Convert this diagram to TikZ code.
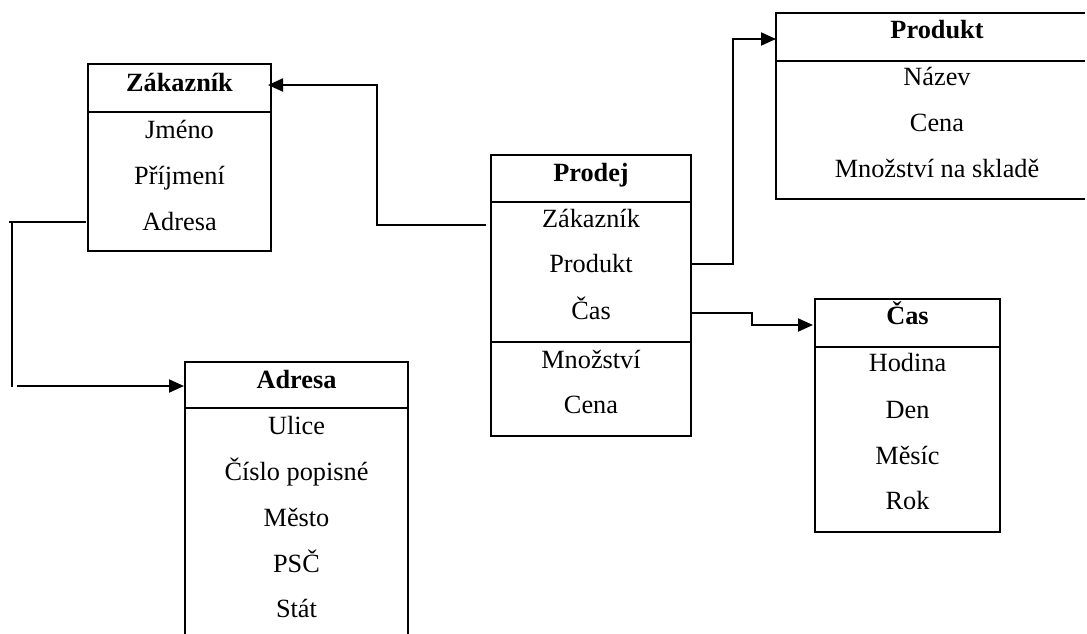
\documentclass[tikz,border=0pt]{standalone}
\usepackage{fontspec}
\setmainfont{Liberation Serif}
\usetikzlibrary{arrows.meta}
\begin{document}
\begin{tikzpicture}[x=1pt,y=-1pt,
  entity/.style={draw=black,line width=1.4pt,inner sep=0pt,outer sep=0pt,fill=none},
  rule/.style={draw=black,line width=1.4pt},
  thickrule/.style={draw=black,line width=2.6pt},
  conn/.style={draw=black,line width=1.9pt},
  arr/.style={conn,-{Triangle[length=15pt,width=13pt]}},
  txt/.style={anchor=base,inner sep=0pt,font=\fontsize{26.3}{30}\selectfont,text=black},
  hdr/.style={txt,font=\fontsize{26.3}{30}\selectfont\bfseries}]
\useasboundingbox (0,0) rectangle (1087,633);
\clip (0,0) rectangle (1087,633);

% ---- Zákazník
\node[entity,minimum width=183pt,minimum height=187pt] (zak) at (179.5,157.5) {};
\draw[rule] (zak.west |- 0,112) -- (zak.east |- 0,112);
\node[hdr] (zakH) at (179.5,91) {Zákazník};
\node[txt] (zak1) at (179.5,138) {Jméno};
\node[txt] (zak2) at (179.5,184) {Příjmení};
\node[txt] (zak3) at (179.5,230) {Adresa};

% ---- Adresa (runs off the bottom edge)
\node[entity,minimum width=223pt,minimum height=340pt] (adr) at (296.5,532) {};
\draw[rule] (adr.west |- 0,408) -- (adr.east |- 0,408);
\node[hdr] (adrH) at (296.5,388) {Adresa};
\node[txt] (adr1) at (296.5,434) {Ulice};
\node[txt] (adr2) at (296.5,480) {Číslo popisné};
\node[txt] (adr3) at (296.5,526) {Město};
\node[txt] (adr4) at (296.5,572) {PSČ};
\node[txt] (adr5) at (296.5,617) {Stát};

% ---- Prodej
\node[entity,minimum width=200pt,minimum height=281pt] (pro) at (591,295.5) {};
\draw[rule] (pro.west |- 0,202) -- (pro.east |- 0,202);
\draw[thickrule] (pro.west |- 0,342) -- (pro.east |- 0,342);
\node[hdr] (proH) at (591,181) {Prodej};
\node[txt] (pro1) at (591,227) {Zákazník};
\node[txt] (pro2) at (591,272) {Produkt};
\node[txt] (pro3) at (591,319) {Čas};
\node[txt] (pro4) at (591,368) {Množství};
\node[txt] (pro5) at (591,413) {Cena};

% ---- Produkt (open on the right side)
\node[entity,draw=none,minimum width=309pt,minimum height=186pt] (prd) at (930.5,106) {};
\draw[rule] (prd.north east) -- (prd.north west) -- (prd.south west) -- (prd.south east);
\draw[rule] (prd.west |- 0,61) -- (prd.east |- 0,61);
\node[hdr] (prdH) at (937,38) {Produkt};
\node[txt] (prd1) at (937,85) {Název};
\node[txt] (prd2) at (937,131) {Cena};
\node[txt] (prd3) at (937,177) {Množství na skladě};

% ---- Čas
\node[entity,minimum width=185pt,minimum height=233pt] (cas) at (907.5,415.5) {};
\draw[rule] (cas.west |- 0,347) -- (cas.east |- 0,347);
\node[hdr] (casH) at (907.5,324) {Čas};
\node[txt] (cas1) at (907.5,371) {Hodina};
\node[txt] (cas2) at (907.5,418) {Den};
\node[txt] (cas3) at (907.5,464) {Měsíc};
\node[txt] (cas4) at (907.5,509) {Rok};

% ---- connectors
\coordinate (zakIn) at ([xshift=-3pt]zak.east |- 0,85);
\draw[arr] ([xshift=-5pt]pro.west |- 0,225) -- (377,225) -- (377,85) -- (zakIn);

\coordinate (leftEnd) at (9,222);
\coordinate (leftTop) at (12,222);
\coordinate (leftBot) at (12,387);
\coordinate (adrFrom) at (17,386);
\draw[conn,line width=1.5pt] ([xshift=-2pt]zak.west |- 0,222) -- (leftEnd);
\draw[conn,line width=1.5pt] (leftTop) -- (leftBot);
\draw[arr] (adrFrom) -- ([xshift=-1pt]adr.west |- 0,386);

\draw[arr] ([xshift=1pt]pro.east |- 0,264) -- (733,264) -- (733,39) -- (prd.west |- 0,39);
\draw[arr] ([xshift=1pt]pro.east |- 0,313) -- (752,313) -- (752,325) -- ([xshift=-2pt]cas.west |- 0,325);
\end{tikzpicture}
\end{document}
